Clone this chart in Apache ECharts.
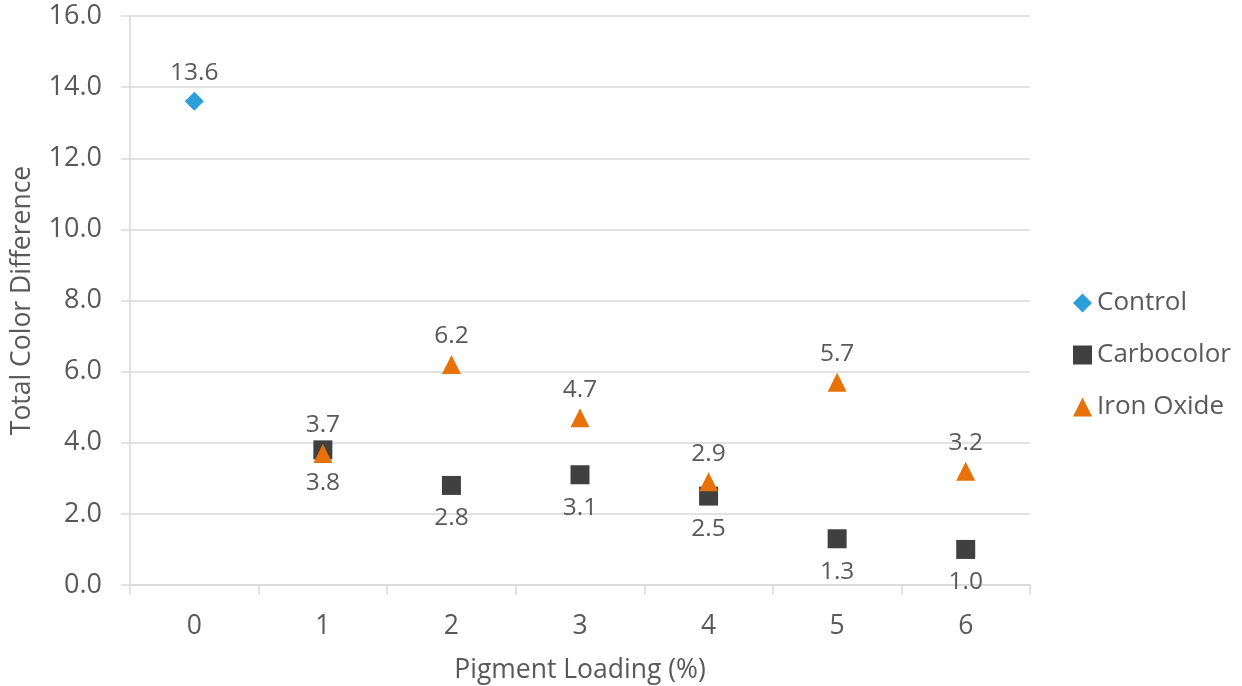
<!DOCTYPE html>
<html>
<head>
<meta charset="utf-8">
<script src="https://cdn.jsdelivr.net/npm/echarts@6/dist/echarts.min.js"></script>
<style>html,body{margin:0;padding:0;background:#fff}#c{width:1242px;height:686px}</style>
</head>
<body>
<div id="c"></div>
<script>
const categories = ['0', '1', '2', '3', '4', '5', '6'];
const controlValues = [13.6, null, null, null, null, null, null];
const carbocolorValues = [null, 3.8, 2.8, 3.1, 2.5, 1.3, 1.0];
const ironOxideValues = [null, 3.7, 6.2, 4.7, 2.9, 5.7, 3.2];
const yTicks = { min: 0, max: 16, interval: 2 };

const FONT = '"Open Sans", "Noto Sans", sans-serif';
const TXT = '#595959';
const chart = echarts.init(document.getElementById('c'), null, { renderer: 'canvas' });
const labelFmt = p => (p.value == null ? '' : Number(p.value).toFixed(1));
chart.setOption({
  animation: false,
  textStyle: { fontFamily: FONT },
  grid: { left: 130, right: 212, top: 16, bottom: 101, containLabel: false, outerBoundsMode: 'none' },
  legend: {
    orient: 'vertical', left: 1068, top: 285, itemGap: 26,
    itemWidth: 19, itemHeight: 19,
    textStyle: { fontFamily: FONT, fontSize: 26, color: TXT, padding: [0, 0, 0, 0] },
    data: [
      { name: 'Control', icon: 'diamond' },
      { name: 'Carbocolor', icon: 'rect' },
      { name: 'Iron Oxide', icon: 'triangle' }
    ]
  },
  xAxis: {
    type: 'category', data: categories, boundaryGap: true,
    name: 'Pigment Loading (%)', nameLocation: 'middle', nameGap: 72,
    nameTextStyle: { fontFamily: FONT, fontSize: 26.5, color: TXT },
    axisLine: { lineStyle: { color: '#d9d9d9', width: 1.5 } },
    axisTick: { show: true, length: 10, alignWithLabel: false, lineStyle: { color: '#d9d9d9', width: 1.5 } },
    axisLabel: { fontFamily: FONT, fontSize: 26.5, color: TXT, margin: 28 },
    splitLine: { show: false }
  },
  yAxis: {
    type: 'value', min: yTicks.min, max: yTicks.max, interval: yTicks.interval,
    name: 'Total Color Difference', nameLocation: 'middle', nameGap: 94, nameRotate: 90,
    nameTextStyle: { fontFamily: FONT, fontSize: 26.5, color: TXT },
    axisLine: { show: true, lineStyle: { color: '#d9d9d9', width: 1.5 } },
    axisTick: { show: true, length: 9, lineStyle: { color: '#d9d9d9', width: 1.5 } },
    axisLabel: { fontFamily: FONT, fontSize: 27, color: TXT, margin: 28, formatter: v => v.toFixed(1) },
    splitLine: { lineStyle: { color: '#d9d9d9', width: 1.5 } }
  },
  series: [
    {
      name: 'Control', type: 'scatter', data: controlValues, symbol: 'diamond', symbolSize: 19,
      itemStyle: { color: '#2A9FDA', opacity: 1 },
      label: { show: true, position: 'top', distance: 6, formatter: labelFmt, fontFamily: FONT, fontSize: 24.5, color: TXT }
    },
    {
      name: 'Carbocolor', type: 'scatter', data: carbocolorValues, symbol: 'rect', symbolSize: 19,
      itemStyle: { color: '#404040', opacity: 1 },
      label: { show: true, position: 'bottom', distance: 11, formatter: labelFmt, fontFamily: FONT, fontSize: 24.5, color: TXT }
    },
    {
      name: 'Iron Oxide', type: 'scatter', data: ironOxideValues, symbol: 'triangle', symbolSize: [19, 19],
      itemStyle: { color: '#E8710A', opacity: 1 },
      label: { show: true, position: 'top', distance: 6, formatter: labelFmt, fontFamily: FONT, fontSize: 24.5, color: TXT }
    }
  ]
});
</script>
</body>
</html>
